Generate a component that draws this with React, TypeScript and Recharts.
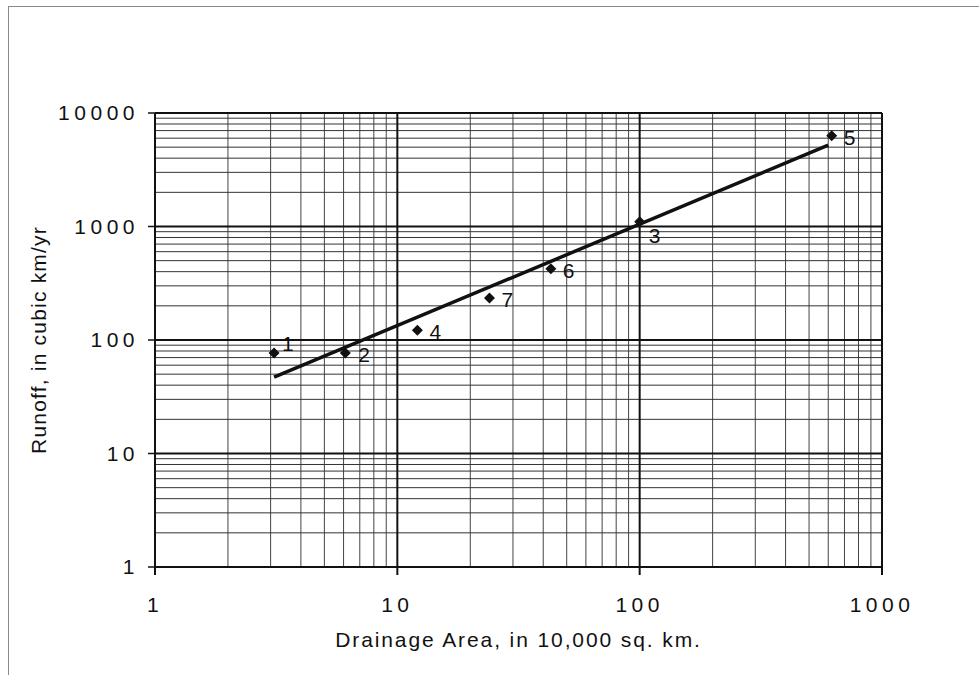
import { ScatterChart, Scatter, XAxis, YAxis, ReferenceLine, LabelList } from 'recharts';

// river points: drainage area (10,000 sq km) vs runoff (cubic km/yr)
const areas = [3.1, 6.1, 100, 12.1, 620, 43, 24];
const runoffs = [77, 77, 1100, 122, 6300, 425, 235];
const riverLabels = ['1', '2', '3', '4', '5', '6', '7'];

// power trendline end points
const trendAreas = [3.1, 600];
const trendRunoffs = [47, 5200];

const xTicks = [1, 10, 100, 1000];
const yTicks = [1, 10, 100, 1000, 10000];
const xMinor = [2, 3, 4, 5, 6, 7, 8, 9, 20, 30, 40, 50, 60, 70, 80, 90, 200, 300, 400, 500, 600, 700, 800, 900];
const yMinor = [
  2, 3, 4, 5, 6, 7, 8, 9, 20, 30, 40, 50, 60, 70, 80, 90,
  200, 300, 400, 500, 600, 700, 800, 900, 2000, 3000, 4000, 5000, 6000, 7000, 8000, 9000,
];
const xMajor = [10, 100, 1000];
const yMajor = [10, 100, 1000, 10000];

const points = areas.map((a, i) => ({ area: a, runoff: runoffs[i], label: riverLabels[i] }));
const trend = trendAreas.map((a, i) => ({ area: a, runoff: trendRunoffs[i] }));

const FONT = '"Liberation Sans", Arial, Helvetica, sans-serif';
const INK = '#111';

const Diamond = (props: any) => {
  const { cx, cy } = props;
  const r = 5.5;
  return <polygon points={`${cx},${cy - r} ${cx + r},${cy} ${cx},${cy + r} ${cx - r},${cy}`} fill={INK} />;
};

const PointLabel = (props: any) => {
  const { x, y, width, height, value } = props;
  const cx = x + width / 2;
  const cy = y + height / 2;
  let dx = 12;
  let dy = 9;
  if (value === '1') { dx = 8; dy = -2; }
  if (value === '2') { dx = 13; }
  if (value === '3') { dx = 9; dy = 21; }
  return (
    <text x={cx + dx} y={cy + dy} fontSize={21} fontFamily={FONT} fill={INK}>
      {value}
    </text>
  );
};

const YTitle = (props: any) => {
  const { viewBox } = props;
  const cy = viewBox.y + viewBox.height / 2;
  return (
    <text
      x={46}
      y={cy}
      transform={`rotate(-90, 46, ${cy})`}
      textAnchor="middle"
      fontSize={21}
      letterSpacing={1.2}
      fontFamily={FONT}
      fill={INK}
    >
      Runoff, in cubic km/yr
    </text>
  );
};

const XTitle = (props: any) => {
  const { viewBox } = props;
  const cx = viewBox.x + viewBox.width / 2;
  return (
    <text x={cx} y={647} textAnchor="middle" fontSize={21} letterSpacing={1.9} fontFamily={FONT} fill={INK}>
      Drainage Area, in 10,000 sq. km.
    </text>
  );
};

const tickStyle = { fontSize: 21, fontFamily: FONT, fill: INK, letterSpacing: 4.5 };

export default function App() {
  return (
    <div style={{ position: 'fixed', left: 0, top: 0, width: 979, height: 675, background: '#fff' }}>
      <div
        style={{
          position: 'absolute',
          left: 8,
          top: 6,
          width: 980,
          height: 680,
          borderLeft: '1.5px solid #8a8a8a',
          borderTop: '1.5px solid #8a8a8a',
        }}
      />
      <ScatterChart
        width={979}
        height={675}
        margin={{ top: 113, right: 97, bottom: 68, left: 95 }}
        style={{ position: 'absolute', left: 0, top: 0 }}
      >
        {xMinor.map((v) => (
          <ReferenceLine key={`mx-${v}`} x={v} stroke="#444" strokeWidth={1} />
        ))}
        {yMinor.map((v) => (
          <ReferenceLine key={`my-${v}`} y={v} stroke="#333" strokeWidth={1} />
        ))}
        {xMajor.map((v) => (
          <ReferenceLine key={`vx-${v}`} x={v} stroke={INK} strokeWidth={2} />
        ))}
        {yMajor.map((v) => (
          <ReferenceLine key={`hy-${v}`} y={v} stroke={INK} strokeWidth={2} />
        ))}
        <XAxis
          type="number"
          dataKey="area"
          scale="log"
          domain={[1, 1000]}
          ticks={xTicks}
          height={40}
          tickSize={8}
          tickMargin={22}
          tick={tickStyle}
          axisLine={{ stroke: INK, strokeWidth: 2 }}
          tickLine={{ stroke: INK, strokeWidth: 2 }}
          allowDataOverflow
          label={<XTitle />}
        />
        <YAxis
          type="number"
          dataKey="runoff"
          scale="log"
          domain={[1, 10000]}
          ticks={yTicks}
          width={60}
          tickSize={7}
          tickMargin={9}
          tick={tickStyle}
          axisLine={{ stroke: INK, strokeWidth: 2 }}
          tickLine={{ stroke: INK, strokeWidth: 1.5 }}
          allowDataOverflow
          label={<YTitle />}
        />
        <Scatter
          data={trend}
          line={{ stroke: INK, strokeWidth: 3.5 }}
          shape={() => <g />}
          isAnimationActive={false}
        />
        <Scatter data={points} shape={<Diamond />} isAnimationActive={false}>
          <LabelList dataKey="label" content={<PointLabel />} />
        </Scatter>
      </ScatterChart>
    </div>
  );
}
